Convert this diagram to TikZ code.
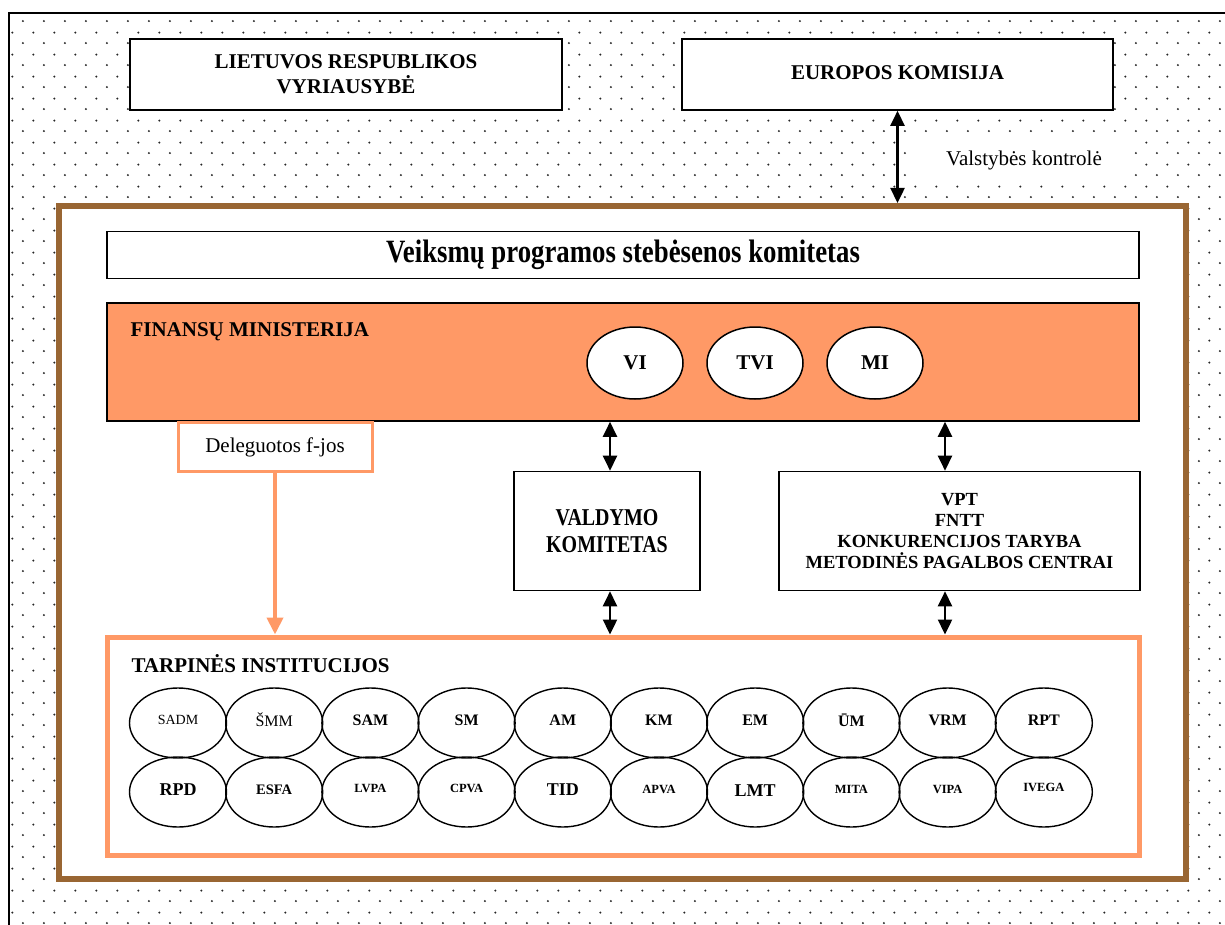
\documentclass[tikz,border=0pt]{standalone}
\usepackage{fontspec}
\setmainfont{Liberation Serif}
\usetikzlibrary{arrows.meta,shapes.geometric,patterns,positioning}

\definecolor{fmorange}{RGB}{255,153,102}
\definecolor{vpbrown}{RGB}{153,102,51}

% staggered dot raster of the background
\pgfdeclarepatternformonly{stagdots}{\pgfpointorigin}{\pgfpoint{21.4pt}{22pt}}{\pgfpoint{21.4pt}{22pt}}{%
  \pgfpathcircle{\pgfpoint{2pt}{2pt}}{1.15pt}%
  \pgfpathcircle{\pgfpoint{12.7pt}{13pt}}{1.15pt}%
  \pgfusepath{fill}}

\begin{document}
\begin{tikzpicture}[x=1pt,y=-1pt,
    box/.style={draw,line width=1.6pt,fill=white,align=center,inner sep=2pt,
      font=\bfseries\fontsize{21}{25}\selectfont},
    oval/.style={draw,ellipse,line width=1.5pt,fill=white,inner sep=0pt,
      minimum width=96pt,minimum height=72pt,font=\bfseries\fontsize{21}{25}\selectfont},
    inst/.style={draw,ellipse,line width=1.4pt,inner sep=0pt,
      minimum width=97pt,minimum height=70pt},
    dblarrow/.style={{Triangle[width=14pt,length=15pt]}-{Triangle[width=14pt,length=15pt]},line width=2.4pt},
    delarrow/.style={-{Triangle[width=16pt,length=17pt]},draw=fmorange,line width=4pt}]
    \useasboundingbox (0,0) rectangle (1225,925);
    \clip (0,0) rectangle (1225,925);
    \fill[white] (0,0) rectangle (1225,925);
    % dotted outer frame
    \fill[pattern=stagdots,pattern color=black!85] (9,13) rectangle (1240,940);
    \draw[line width=1.6pt] (9,940) -- (9,13) -- (1240,13);

    \node[box,minimum width=432pt,minimum height=71pt] (lrv) at (346,74.5)
        {LIETUVOS RESPUBLIKOS\\VYRIAUSYBĖ};
    \node[box,minimum width=431pt,minimum height=71pt] (ek) at (897.5,74.5)
        {\raisebox{3pt}{EUROPOS KOMISIJA}};
    \node[fill=white,minimum width=220pt,minimum height=44pt,
        font=\fontsize{21}{25}\selectfont] (vk) at (1024,160) {Valstybės kontrolė};

    % operational programme frame
    \node[draw=vpbrown,line width=6pt,fill=white,minimum width=1127pt,minimum height=673pt] (vp) at (622.5,542.5) {};
    \draw[dblarrow] (ek.south) -- (ek.south |- vp.north);

    \node[box,minimum width=1032pt,minimum height=47pt,
        font=\bfseries\fontsize{26}{30}\selectfont] (vpsk) at (623,255)
        {\scalebox{1.03}[1.25]{Veiksmų programos stebėsenos komitetas}};

    \node[draw,line width=1.6pt,fill=fmorange,minimum width=1032pt,minimum height=118pt] (fm) at (623,362) {};
    \node[anchor=base west,font=\bfseries\fontsize{21}{25}\selectfont] (fmt) at (127,336) {FINANSŲ MINISTERIJA};
    \node[oval] (vi) at (635,363) {VI};
    \node[oval] (tvi) at (755,363) {TVI};
    \node[oval] (mi) at (875,363) {MI};

    \node[draw=fmorange,line width=3pt,fill=white,minimum width=194pt,minimum height=49pt,
        font=\fontsize{21}{25}\selectfont] (del) at (275,447) {Deleguotos f-jos};

    \node[box,minimum width=186pt,minimum height=119pt] (vk2) at (607,531)
        {\scalebox{0.95}[1.15]{VALDYMO}\\[2pt]\scalebox{0.95}[1.15]{KOMITETAS}};
    \node[box,minimum width=361pt,minimum height=119pt,
        font=\bfseries\fontsize{18.5}{21}\selectfont] (vpt) at (959.5,531)
        {VPT\\FNTT\\KONKURENCIJOS TARYBA\\METODINĖS PAGALBOS CENTRAI};

    % intermediate bodies
    \node[draw=fmorange,line width=5pt,minimum width=1032pt,minimum height=218pt] (ti) at (623,746) {};
    \node[anchor=base west,font=\bfseries\fontsize{21}{25}\selectfont] (tit) at (128,672) {TARPINĖS INSTITUCIJOS};

    \coordinate (vkx) at (610,0);
    \coordinate (vptx) at (945,0);
    \draw[dblarrow] (fm.south -| vkx) -- (vk2.north -| vkx);
    \draw[dblarrow] (fm.south -| vptx) -- (vpt.north -| vptx);
    \draw[dblarrow] (vk2.south -| vkx) -- (ti.north -| vkx);
    \draw[dblarrow] (vpt.south -| vptx) -- (ti.north -| vptx);
    \draw[delarrow] (del.south) -- (del.south |- ti.north);

    \foreach \nm/\lbl/\sz/\wt [count=\i from 0] in {sadm/SADM/14/\mdseries, smm/ŠMM/16/\mdseries,
        sam/SAM/16/\bfseries, sm/SM/16/\bfseries, am/AM/16/\bfseries, km/KM/16/\bfseries,
        em/EM/16/\bfseries, um/ŪM/16/\bfseries, vrm/VRM/16/\bfseries, rpt/RPT/16/\bfseries}
        \node[inst,font=\wt\fontsize{\sz}{\sz}\selectfont] (\nm) at ({178+96.2*\i},723) {\raisebox{6pt}{\lbl}};
    \foreach \nm/\lbl/\sz/\dy [count=\i from 0] in {rpd/RPD/18/4, esfa/ESFA/14.5/5, lvpa/LVPA/12.5/8,
        cpva/CPVA/12.5/8, tid/TID/18/4, apva/APVA/12.5/6, lmt/LMT/18/2, mita/MITA/12.5/6,
        vipa/VIPA/12.5/6, ivega/IVEGA/12.5/9}
        \node[inst,font=\bfseries\fontsize{\sz}{\sz}\selectfont] (\nm) at ({178+96.2*\i},792) {\raisebox{\dy pt}{\lbl}};
\end{tikzpicture}
\end{document}
